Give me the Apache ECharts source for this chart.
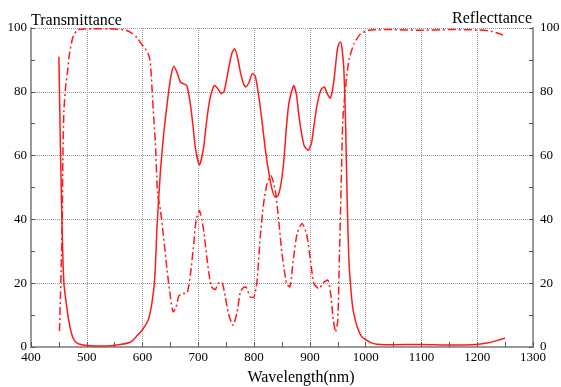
<!DOCTYPE html>
<html>
<head>
<meta charset="utf-8">
<script src="https://cdn.jsdelivr.net/npm/echarts@6/dist/echarts.min.js"></script>
<style>
    html, body { margin: 0; padding: 0; background: #fff; }
    #main { width: 561px; height: 387px; }
</style>
</head>
<body>
<div id="main"></div>
<script>
// 透过率 (实线) 波长 / 数值
var tWave = [450, 453, 456, 459, 463, 468, 473, 478, 485, 500, 530, 560, 578, 590, 600, 610, 617, 622, 626, 632, 638, 646, 651, 656, 662, 668, 679, 685, 690, 695, 702, 709, 715, 721, 729, 735, 741, 746, 754, 760, 765, 770, 775, 780, 785, 791, 797, 802, 808, 814, 820, 826, 832, 838, 843, 848, 853, 858, 862, 867, 871, 876, 880, 885, 890, 897, 903, 907, 912, 916, 921, 926, 931, 936, 940, 944, 949, 952, 955, 958, 961, 964, 967, 970, 974, 978, 985, 992, 1000, 1010, 1020, 1050, 1100, 1150, 1200, 1220, 1235, 1250];
var tVal = [91, 60, 35, 20, 14, 8, 4, 2, 1, 0.5, 0.3, 0.8, 1.5, 3.5, 5.5, 8.5, 14, 22, 38, 55, 67, 79, 85, 88, 86, 83, 82, 77, 70, 62, 57, 62, 71, 78, 82, 81, 79.5, 80, 87, 92, 93.5, 91, 86.5, 83, 81.5, 83, 85.7, 85, 79, 71, 62, 55, 49.5, 47, 47.5, 51, 58, 69, 76, 80, 82, 79, 73, 67, 63, 61.7, 64, 69, 75, 78.5, 81, 81.5, 79.5, 78, 80, 85, 93, 95, 95.6, 93, 86.7, 70, 45, 27, 17, 11, 6.3, 3.5, 2.3, 1.3, 0.9, 0.7, 0.8, 0.6, 0.8, 1.3, 2, 2.8];

// 反射率 (点划线) 波长 / 数值
var rWave = [451, 452.5, 454, 456, 457, 459, 462, 466, 469, 475, 484, 500, 540, 570, 580, 590, 598, 605, 611, 614, 617, 620, 623, 627, 632, 638, 644, 650, 655, 660, 665, 671, 680, 686, 691, 696, 702, 706, 710, 716, 723, 730, 736, 742, 748, 754, 762, 769, 775, 780, 785, 793, 799, 805, 811, 817, 823, 830, 838, 844, 850, 858, 864, 870, 877, 886, 894, 901, 907, 916, 925, 932, 937, 942, 946, 950, 953, 956, 959, 964, 970, 979, 991, 1009, 1050, 1100, 1150, 1200, 1225, 1240, 1250];
var rVal = [5, 14, 24, 40, 58, 74, 81.5, 87, 92, 97, 99.5, 99.7, 99.8, 99.3, 98.5, 97, 95, 93.5, 91.5, 89, 81, 72, 64, 48, 43, 34, 24, 15.7, 11, 12.5, 16, 16.7, 17, 23, 31, 39.7, 42.8, 40, 36, 27, 19, 18, 20, 20.3, 16, 10.5, 6.8, 10.5, 17, 18.5, 18.8, 15.7, 15.5, 20.3, 34.5, 45, 51, 53.8, 49, 39.7, 29.3, 20, 18.8, 27, 35.5, 38.7, 35.5, 27.2, 20, 18.3, 20.3, 21, 17, 8.4, 4.7, 8.4, 29, 50, 71, 81.5, 90, 95, 98.2, 99.4, 99.5, 99.3, 99.5, 99.4, 99, 98.2, 97.5];

// 坐标轴刻度
var xTicks = { min: 400, max: 1300, interval: 100 };
var yTicks = { min: 0, max: 100, interval: 20 };

(function() {
    var myChart = echarts.init(document.getElementById('main'));

    function pairs(xs, ys) {
        var out = [];
        for (var i = 0; i < xs.length; i++) {
            out.push([xs[i], ys[i]]);
        }
        return out;
    }

    var font = 'Liberation Serif';
    var axisGray = '#999';
    var titleStyle = { fontFamily: font, fontSize: 16, fontWeight: 'normal', color: '#000' };

    // y 轴公共配置
    function yAxisCfg(pos) {
        return {
            type: 'value',
            position: pos,
            min: yTicks.min,
            max: yTicks.max,
            interval: yTicks.interval,
            axisLine: { show: true, lineStyle: { color: axisGray, width: 2 } },
            axisTick: { show: true, inside: true, length: 4, lineStyle: { color: '#555' } },
            minorTick: { show: true, splitNumber: 2, length: 4, lineStyle: { color: '#555' } },
            axisLabel: {
                fontFamily: font,
                fontSize: 13,
                color: '#000',
                margin: pos === 'left' ? 4 : 7
            },
            splitLine: {
                show: pos === 'left',
                lineStyle: { color: '#999', type: 'dotted', width: 1 }
            }
        };
    }

    option = {
        animation: false,
        backgroundColor: '#fff',
        // 左右两个轴标题
        title: [{
            text: 'Transmittance',
            left: 31,
            top: 13,
            padding: 0,
            textStyle: titleStyle
        }, {
            text: 'Reflecttance',
            right: 29,
            top: 11,
            padding: 0,
            textStyle: titleStyle
        }],
        grid: {
            left: 31,
            right: 28,
            top: 28,
            bottom: 40,
            outerBoundsMode: 'none'
        },
        xAxis: {
            type: 'value',
            min: xTicks.min,
            max: xTicks.max,
            interval: xTicks.interval,
            name: 'Wavelength(nm)',
            nameLocation: 'middle',
            nameGap: 23,
            nameTextStyle: {
                fontFamily: font,
                fontSize: 16,
                color: '#000',
                padding: [0, 0, 0, 38]
            },
            axisLine: { show: true, lineStyle: { color: axisGray, width: 2 } },
            axisTick: { show: true, inside: true, length: 5, lineStyle: { color: '#555' } },
            minorTick: { show: true, splitNumber: 2, length: 5, lineStyle: { color: '#555' } },
            axisLabel: {
                fontFamily: font,
                fontSize: 13,
                color: '#000',
                margin: 4,
                formatter: function(v) { return String(v); }
            },
            splitLine: {
                show: true,
                lineStyle: { color: '#999', type: 'dotted', width: 1 }
            }
        },
        yAxis: [yAxisCfg('left'), yAxisCfg('right')],
        series: [{
            name: 'Transmittance',
            type: 'line',
            yAxisIndex: 0,
            symbol: 'none',
            smooth: 0.2,
            lineStyle: { color: '#ff1a1a', width: 1.5 },
            data: pairs(tWave, tVal)
        }, {
            name: 'Reflecttance',
            type: 'line',
            yAxisIndex: 1,
            symbol: 'none',
            smooth: 0.2,
            lineStyle: { color: '#ff1a1a', width: 1.5, type: [8, 3, 2, 3] },
            data: pairs(rWave, rVal)
        }]
    };

    myChart.setOption(option);
})();
</script>
</body>
</html>
